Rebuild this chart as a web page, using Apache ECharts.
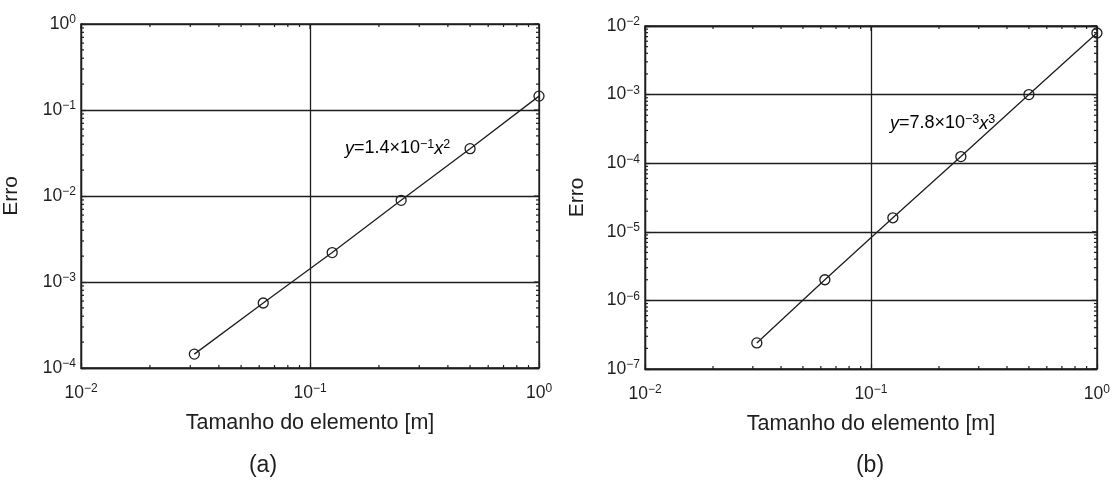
<!DOCTYPE html>
<html>
<head>
<meta charset="utf-8">
<script src="https://cdn.jsdelivr.net/npm/echarts@6/dist/echarts.min.js"></script>
<style>
  html, body { margin: 0; padding: 0; background: #fff; }
  #chart { width: 1113px; height: 483px; }
</style>
</head>
<body>
<div id="chart"></div>
<script>
// Element sizes (m) and the discretisation error measured at each size
const elementSizes = [0.03125, 0.0625, 0.125, 0.25, 0.5, 1];
const errorA = [1.45e-4, 5.7e-4, 2.2e-3, 8.9e-3, 3.55e-2, 1.45e-1];
const errorB = [2.4e-7, 2.0e-6, 1.6e-5, 1.25e-4, 1.0e-3, 7.9e-3];

// Decade exponents spanned by each axis
const xDecades = [-2, -1, 0];
const yDecadesA = [-4, -3, -2, -1, 0];
const yDecadesB = [-7, -6, -5, -4, -3, -2];

const xLabel = 'Tamanho do elemento [m]';
const yLabel = 'Erro';
const panelTitles = ['(a)', '(b)'];
const fitLabels = [
  { pre: '=1.4×10', exp: '\u22121', pow: '2' },
  { pre: '=7.8×10', exp: '\u22123', pow: '3' }
];

const INK = '#1e1e1e';
const FONT = "'Liberation Sans', Arial, sans-serif";

const pow10 = e => Math.pow(10, e);
const pairs = ys => elementSizes.map((x, i) => [x, ys[i]]);

// Minor (2..9) tick values inside a range of decades
function minorValues(decades) {
  const out = [];
  for (let i = 0; i < decades.length - 1; i++) {
    for (let k = 2; k <= 9; k++) out.push(k * pow10(decades[i]));
  }
  return out;
}

const expLabel = v => {
  const e = Math.round(Math.log10(v));
  return '{b|10}{s|' + (e < 0 ? '\u2212' + (-e) : e) + '}';
};
const supRich = {
  b: { fontSize: 17.5, lineHeight: 20, color: INK, fontFamily: FONT },
  s: { fontSize: 12, lineHeight: 12, color: INK, fontFamily: FONT, verticalAlign: 'top' }
};

const grids = [
  { left: 79, top: 24, width: 460, height: 344 },
  { left: 645, top: 26, width: 458, height: 343 }
];
const yDecadeSets = [yDecadesA, yDecadesB];

function axisCommon() {
  return {
    type: 'log',
    logBase: 10,
    axisLine: { show: true, lineStyle: { color: INK, width: 1.3 } },
    axisTick: { show: true, inside: true, length: 5, lineStyle: { color: INK, width: 1.2 } },
    minorTick: { show: false },
    splitLine: { show: true, lineStyle: { color: INK, width: 1.3 } }
  };
}

const xAxes = grids.map((g, i) => Object.assign(axisCommon(), {
  gridIndex: i,
  min: pow10(xDecades[0]),
  max: pow10(xDecades[xDecades.length - 1]),
  name: xLabel,
  nameLocation: 'middle',
  nameGap: 44,
  nameTextStyle: { color: INK, fontFamily: FONT, fontSize: 21.5 },
  axisLabel: { formatter: expLabel, rich: supRich, margin: 15, color: INK }
}));

const yAxes = grids.map((g, i) => Object.assign(axisCommon(), {
  gridIndex: i,
  min: pow10(yDecadeSets[i][0]),
  max: pow10(yDecadeSets[i][yDecadeSets[i].length - 1]),
  name: yLabel,
  nameLocation: 'middle',
  nameRotate: 90,
  nameGap: i === 0 ? 59 : 57,
  nameTextStyle: { color: INK, fontFamily: FONT, fontSize: 21 },
  axisLabel: { formatter: expLabel, rich: supRich, margin: 5, color: INK }
}));

// Ticks drawn through the axis scales: minor ticks on all four sides,
// major ticks on the top and right edges of the box.
function tickSeries(gridIdx, axisDim, values, len) {
  const yMin = pow10(yDecadeSets[gridIdx][0]);
  const yMax = pow10(yDecadeSets[gridIdx][yDecadeSets[gridIdx].length - 1]);
  const xMin = pow10(xDecades[0]);
  const xMax = pow10(xDecades[xDecades.length - 1]);
  const style = { stroke: INK, lineWidth: 1.2 };
  return {
    type: 'custom',
    xAxisIndex: gridIdx,
    yAxisIndex: gridIdx,
    silent: true,
    clip: false,
    z: 3,
    data: values.map(v => axisDim === 'x' ? [v, yMin] : [xMin, v]),
    renderItem: (params, api) => {
      const children = [];
      if (axisDim === 'x') {
        const v = api.value(0);
        const pb = api.coord([v, yMin]);
        const pt = api.coord([v, yMax]);
        if (len.bottom) children.push({ type: 'line', shape: { x1: pb[0], y1: pb[1], x2: pb[0], y2: pb[1] - len.bottom }, style });
        children.push({ type: 'line', shape: { x1: pt[0], y1: pt[1], x2: pt[0], y2: pt[1] + len.top }, style });
      } else {
        const v = api.value(1);
        const pl = api.coord([xMin, v]);
        const pr = api.coord([xMax, v]);
        if (len.bottom) children.push({ type: 'line', shape: { x1: pl[0], y1: pl[1], x2: pl[0] + len.bottom, y2: pl[1] }, style });
        children.push({ type: 'line', shape: { x1: pr[0], y1: pr[1], x2: pr[0] - len.top, y2: pr[1] }, style });
      }
      return { type: 'group', children };
    }
  };
}

const series = [];
[errorA, errorB].forEach((errs, i) => {
  series.push({
    type: 'line',
    xAxisIndex: i,
    yAxisIndex: i,
    data: pairs(errs),
    symbol: 'circle',
    symbolSize: 10,
    showSymbol: true,
    silent: true,
    z: 4,
    lineStyle: { color: INK, width: 1.3 },
    itemStyle: { color: 'rgba(0,0,0,0)', borderColor: INK, borderWidth: 1.3 }
  });
  series.push(tickSeries(i, 'x', minorValues(xDecades), { bottom: 3, top: 3 }));
  series.push(tickSeries(i, 'y', minorValues(yDecadeSets[i]), { bottom: 3, top: 3 }));
  series.push(tickSeries(i, 'x', xDecades.map(pow10), { bottom: 0, top: 5 }));
  series.push(tickSeries(i, 'y', yDecadeSets[i].map(pow10), { bottom: 0, top: 5 }));
});

// Fit equations and panel captions
const fitRich = {
  v: { fontSize: 18, lineHeight: 21, color: INK, fontFamily: FONT, fontStyle: 'italic' },
  b: { fontSize: 18, lineHeight: 21, color: INK, fontFamily: FONT },
  s: { fontSize: 12.5, lineHeight: 12, color: INK, fontFamily: FONT, verticalAlign: 'top' }
};
const fitPositions = [[345, 138], [890, 113]];
const graphic = fitLabels.map((f, i) => ({
  type: 'text',
  left: fitPositions[i][0],
  top: fitPositions[i][1],
  silent: true,
  style: {
    text: '{v|y}{b|' + f.pre + '}{s|' + f.exp + '}{v|x}{s|' + f.pow + '}',
    rich: fitRich
  }
})).concat(panelTitles.map((t, i) => ({
  type: 'text',
  x: i === 0 ? 263 : 870,
  y: 466,
  silent: true,
  style: {
    text: t,
    fill: INK,
    font: '23px ' + FONT,
    align: 'center',
    verticalAlign: 'middle'
  }
})));

const chart = echarts.init(document.getElementById('chart'), null, { renderer: 'canvas' });
chart.setOption({
  animation: false,
  backgroundColor: '#fff',
  textStyle: { fontFamily: FONT },
  grid: grids.map(g => Object.assign({ show: true, borderColor: INK, borderWidth: 1.3, backgroundColor: 'transparent' }, g)),
  xAxis: xAxes,
  yAxis: yAxes,
  series,
  graphic
});
</script>
</body>
</html>
